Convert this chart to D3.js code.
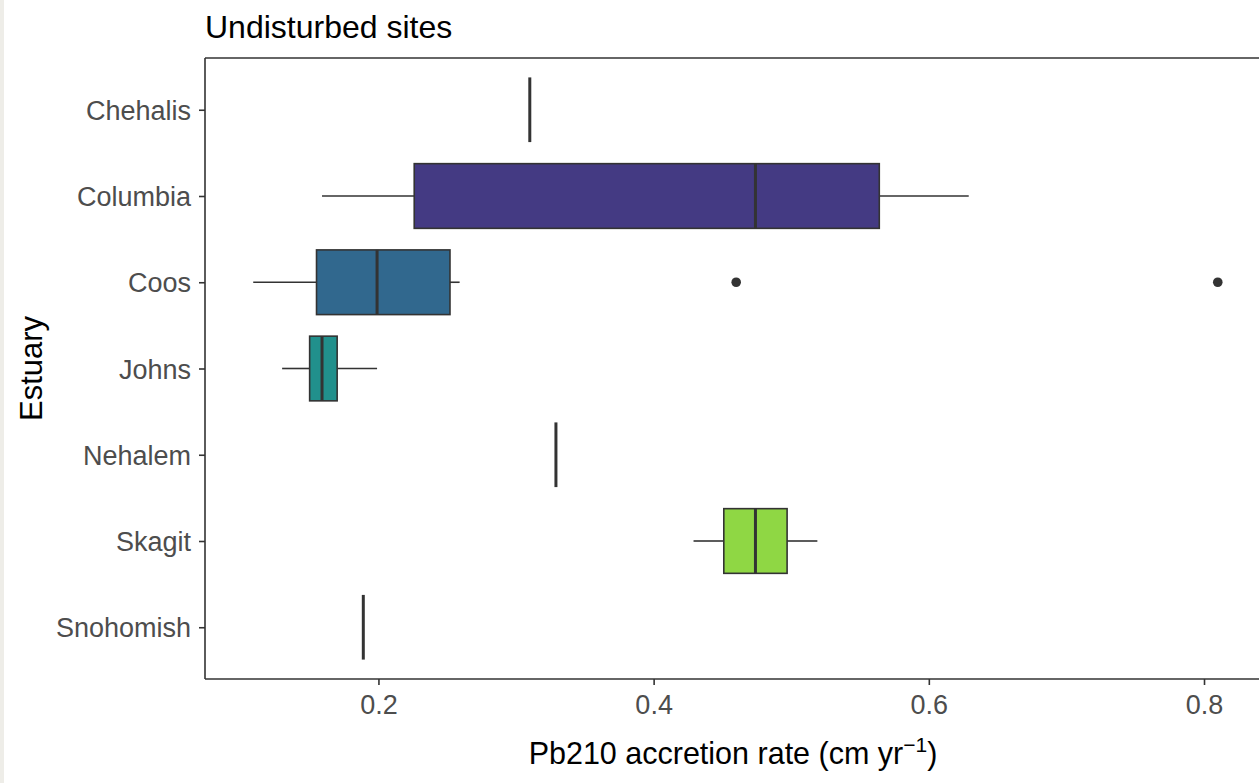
<!DOCTYPE html>
<html>
<head>
<meta charset="utf-8">
<script src="https://cdn.jsdelivr.net/npm/d3@7"></script>
<style>
  html, body { margin: 0; padding: 0; background: #ffffff; overflow: hidden; }
  svg { display: block; font-family: "Liberation Sans", Arial, sans-serif; }
</style>
</head>
<body>
<svg id="chart" width="1259" height="783"></svg>
<script>
// Estuaries, top to bottom
const estuaries = ["Chehalis", "Columbia", "Coos", "Johns", "Nehalem", "Skagit", "Snohomish"];
// Box statistics per estuary (cm/yr)
const whiskerLow  = [0.310, 0.159, 0.109, 0.130, 0.329, 0.429, 0.189];
const quart1      = [0.310, 0.226, 0.155, 0.150, 0.329, 0.451, 0.189];
const medians     = [0.310, 0.474, 0.199, 0.159, 0.329, 0.474, 0.189];
const quart3      = [0.310, 0.564, 0.252, 0.170, 0.329, 0.497, 0.189];
const whiskerHigh = [0.310, 0.629, 0.259, 0.199, 0.329, 0.519, 0.189];
// Outlying cores
const outlierEstuary = ["Coos", "Coos"];
const outlierValue   = [0.460, 0.810];
// Fill colours (viridis, 7 levels)
const fills = ["#440154", "#443A83", "#31688E", "#21908C", "#35B779", "#8FD744", "#FDE725"];
const xTicks = [0.2, 0.4, 0.6, 0.8];

const svg = d3.select("#chart");
const W = 1259, H = 783;
const panel = { left: 205, top: 58, bottom: 679 };

// light grey strip along the left edge of the frame
svg.append("rect").attr("x", 0).attr("y", 0).attr("width", 4).attr("height", H).attr("fill", "#eeede8");

const boxes = estuaries.map((e, i) => ({
  name: e, lo: whiskerLow[i], q1: quart1[i], med: medians[i], q3: quart3[i], hi: whiskerHigh[i], fill: fills[i]
}));

const allVals = whiskerLow.concat(whiskerHigh, outlierValue);
const dMin = d3.min(allVals), dMax = d3.max(allVals);
const pad = (dMax - dMin) * 0.05;
const x = d3.scaleLinear().domain([dMin - pad, dMax + pad]).range([panel.left, 1266]);

const y = d3.scalePoint().domain(estuaries).range([panel.top, panel.bottom]).padding(0.6);
const step = y.step();
const boxH = step * 0.75;

const ink = "#333333";

// boxes
const g = svg.append("g");
boxes.forEach(b => {
  const cy = y(b.name);
  // whiskers
  g.append("line").attr("x1", x(b.lo)).attr("x2", x(b.q1)).attr("y1", cy).attr("y2", cy)
    .attr("stroke", ink).attr("stroke-width", 1.6);
  g.append("line").attr("x1", x(b.q3)).attr("x2", x(b.hi)).attr("y1", cy).attr("y2", cy)
    .attr("stroke", ink).attr("stroke-width", 1.6);
  // box
  g.append("rect").attr("x", x(b.q1)).attr("y", cy - boxH / 2)
    .attr("width", Math.max(0, x(b.q3) - x(b.q1))).attr("height", boxH)
    .attr("fill", b.fill).attr("stroke", ink).attr("stroke-width", 1.6);
  // median
  g.append("line").attr("x1", x(b.med)).attr("x2", x(b.med))
    .attr("y1", cy - boxH / 2).attr("y2", cy + boxH / 2)
    .attr("stroke", ink).attr("stroke-width", 3);
});

// outliers
outlierEstuary.forEach((e, i) => {
  g.append("circle").attr("cx", x(outlierValue[i])).attr("cy", y(e)).attr("r", 4.8).attr("fill", ink);
});

// panel border (left, top, bottom; the right side runs past the frame)
const axisCol = "#333333";
svg.append("line").attr("x1", panel.left).attr("x2", W).attr("y1", panel.top).attr("y2", panel.top)
  .attr("stroke", axisCol).attr("stroke-width", 1.6);
svg.append("line").attr("x1", panel.left).attr("x2", W).attr("y1", panel.bottom).attr("y2", panel.bottom)
  .attr("stroke", axisCol).attr("stroke-width", 1.6);
svg.append("line").attr("x1", panel.left).attr("x2", panel.left).attr("y1", panel.top).attr("y2", panel.bottom)
  .attr("stroke", axisCol).attr("stroke-width", 1.6);

// x axis
const xAxis = d3.axisBottom(x).tickValues(xTicks).tickFormat(d3.format(".1f")).tickSize(6).tickPadding(10);
const gx = svg.append("g").attr("transform", `translate(0,${panel.bottom})`).call(xAxis);
gx.select(".domain").remove();
gx.selectAll(".tick line").attr("stroke", axisCol).attr("stroke-width", 1.6);
gx.selectAll(".tick text").attr("fill", "#4d4d4d").style("font-size", "27px")
  .style("font-family", "'Liberation Sans', Arial, sans-serif");

// y axis
const yAxis = d3.axisLeft(y).tickSize(6).tickPadding(8);
const gy = svg.append("g").attr("transform", `translate(${panel.left},0)`).call(yAxis);
gy.select(".domain").remove();
gy.selectAll(".tick line").attr("stroke", axisCol).attr("stroke-width", 1.6);
gy.selectAll(".tick text").attr("fill", "#4d4d4d").style("font-size", "27px")
  .attr("dy", "0.36em")
  .style("font-family", "'Liberation Sans', Arial, sans-serif");

// title
svg.append("text").attr("x", panel.left).attr("y", 38).attr("fill", "#000")
  .style("font-size", "32px").text("Undisturbed sites");

// axis titles
const xt = svg.append("text").attr("x", 733).attr("y", 764).attr("text-anchor", "middle")
  .attr("fill", "#000").style("font-size", "30.5px");
xt.append("tspan").text("Pb210 accretion rate (cm yr");
xt.append("tspan").attr("dy", -12).style("font-size", "21px").text("\u22121");
xt.append("tspan").attr("dy", 12).text(")");

svg.append("text").attr("transform", `translate(42,${(panel.top + panel.bottom) / 2}) rotate(-90)`)
  .attr("text-anchor", "middle").attr("fill", "#000").style("font-size", "31px").text("Estuary");
</script>
</body>
</html>
